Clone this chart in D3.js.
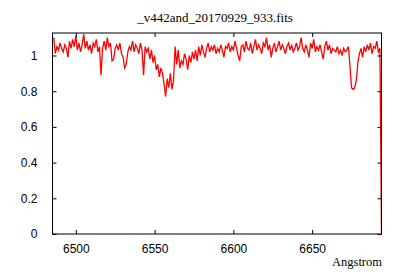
<!DOCTYPE html>
<html>
<head>
<meta charset="utf-8">
<script src="https://cdn.jsdelivr.net/npm/d3@7"></script>
<style>
  body { margin: 0; background: #fff; }
</style>
</head>
<body>
<div id="chart"></div>
<script>
// Spectrum: flux sampled every 1 Angstrom, starting at 6486
const lambdaStart = 6486;
const flux = [
  1.10, 1.01, 1.05, 1.03, 1.07, 1.04, 1.02, 1.06, 1.04, 0.99,
  1.08, 1.04, 1.09, 1.05, 1.11, 1.03, 1.07, 1.02, 1.06, 1.12,
  1.04, 1.08, 1.03, 1.06, 1.01, 1.07, 1.05, 1.09, 1.02, 1.05,
  0.89, 1.04, 1.08, 1.03, 1.10, 1.05, 1.07, 0.97, 0.98, 1.04,
  1.06, 1.03, 1.07, 1.01, 0.99, 0.93, 0.95, 1.02, 1.05, 1.03,
  1.08, 1.02, 1.06, 1.04, 1.01, 1.07, 1.03, 0.89, 1.05, 1.02,
  1.04, 0.98, 1.03, 0.96, 1.00, 0.92, 0.95, 0.88, 0.93, 0.90,
  0.84, 0.77, 0.87, 0.82, 0.90, 0.81, 0.86, 1.05, 0.95, 1.03,
  0.93, 0.97, 0.95, 1.01, 0.98, 0.92, 1.00, 0.96, 1.02, 0.98,
  1.03, 0.97, 1.05, 1.00, 1.06, 1.02, 0.99, 1.04, 1.07, 1.02,
  1.05, 1.03, 1.06, 1.01, 1.04, 1.02, 1.06, 1.03, 0.99, 1.05,
  1.04, 1.07, 1.02, 1.05, 1.03, 1.08, 1.04, 1.00, 0.97, 1.05,
  1.06, 1.02, 1.08, 1.04, 1.03, 1.07, 1.01, 1.05, 1.09, 1.03,
  1.06, 1.04, 1.01, 1.07, 1.05, 1.10, 1.03, 1.06, 0.99, 1.04,
  1.07, 1.02, 1.05, 1.08, 1.03, 1.06, 1.04, 1.01, 1.05, 1.07,
  1.03, 1.06, 1.02, 1.04, 1.07, 1.03, 1.05, 1.10, 1.04, 1.02,
  1.06, 1.03, 0.99, 1.07, 1.04, 1.09, 1.02, 1.05, 1.03, 1.06,
  1.02, 0.98, 1.05, 1.08, 1.03, 1.06, 1.01, 1.04, 1.03, 1.02,
  1.05, 1.01, 1.03, 1.00, 1.04, 1.02, 1.03, 1.05, 0.94, 0.82,
  0.81, 0.82, 0.86, 0.96, 1.01, 1.04, 0.99, 1.05, 1.02, 1.06,
  1.03, 1.07, 1.01, 1.05, 1.04, 1.08, 1.02, 1.04,
  0.00
];
const xTicks = [6500, 6550, 6600, 6650];
const yTicks = [0, 0.2, 0.4, 0.6, 0.8, 1];
const title = "_v442and_20170929_933.fits";
const xLabel = "Angstrom";

const data = flux.map((v, i) => ({ x: lambdaStart + i, y: v }));

const width = 400;
const height = 280;
const margin = { top: 33, right: 18.5, bottom: 46, left: 52.5 };
const x0 = margin.left, x1 = width - margin.right;
const y0 = height - margin.bottom, y1 = margin.top;

const svg = d3.select("#chart")
    .append("svg")
    .attr("width", width)
    .attr("height", height);

const x = d3.scaleLinear().domain([6485.2, 6694]).range([x0, x1]);
const y = d3.scaleLinear().domain([0, 1.126]).range([y0, y1]);

svg.append("defs").append("clipPath").attr("id", "clip")
    .append("rect")
    .attr("x", x0).attr("y", y1)
    .attr("width", x1 - x0).attr("height", y0 - y1);

// Spectrum line
svg.append("path")
    .datum(data)
    .attr("clip-path", "url(#clip)")
    .attr("fill", "none")
    .attr("stroke", "#ff0000")
    .attr("stroke-width", 1.3)
    .attr("d", d3.line().x(d => x(d.x)).y(d => y(d.y)));

// Axes with inward ticks (mirrored on top / right)
const tickFont = "'Liberation Sans', Arial, sans-serif";
const axisStyle = g => {
    g.select(".domain").remove();
    g.selectAll("line").attr("stroke", "#000");
    g.selectAll("text").attr("font-family", tickFont).attr("font-size", 12).attr("fill", "#000");
};

svg.append("g")
    .attr("transform", `translate(0,${y0})`)
    .call(d3.axisBottom(x).tickValues(xTicks).tickSizeInner(-4).tickPadding(10).tickFormat(d3.format("d")))
    .call(axisStyle);
svg.append("g")
    .attr("transform", `translate(0,${y1})`)
    .call(d3.axisTop(x).tickValues(xTicks).tickSizeInner(-4).tickFormat(""))
    .call(axisStyle);
svg.append("g")
    .attr("transform", `translate(${x0},0)`)
    .call(d3.axisLeft(y).tickValues(yTicks).tickSizeInner(-4).tickPadding(15).tickFormat(d => d3.format("")(d)))
    .call(axisStyle);
svg.append("g")
    .attr("transform", `translate(${x1},0)`)
    .call(d3.axisRight(y).tickValues(yTicks).tickSizeInner(-4).tickFormat(""))
    .call(axisStyle);

// Frame
svg.append("rect")
    .attr("x", x0).attr("y", y1)
    .attr("width", x1 - x0).attr("height", y0 - y1)
    .attr("fill", "none")
    .attr("stroke", "#000")
    .attr("stroke-width", 1);

// Title and x label
svg.append("text")
    .attr("x", 215).attr("y", 22)
    .attr("text-anchor", "middle")
    .attr("font-family", "'Liberation Serif', 'Times New Roman', serif")
    .attr("font-size", 13)
    .text(title);

svg.append("text")
    .attr("x", 382).attr("y", 266)
    .attr("text-anchor", "end")
    .attr("font-family", "'Liberation Serif', 'Times New Roman', serif")
    .attr("font-size", 12.5)
    .text(xLabel);
</script>
</body>
</html>
